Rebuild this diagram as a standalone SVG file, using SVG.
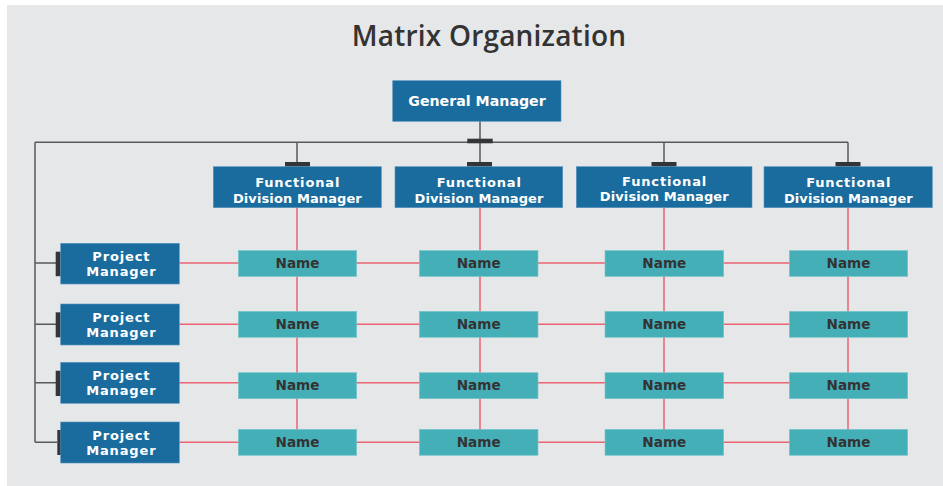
<svg xmlns="http://www.w3.org/2000/svg" width="943" height="486" viewBox="0 0 943 486">
<style>
.bg{fill:#e6e7e9}
.blue{fill:#196c9d;stroke:#5a95bb;stroke-width:0.6}
.teal{fill:#45afb8;stroke:#7cc6cc;stroke-width:0.6}
.bar{fill:#333638}
.gl{stroke:#58595b;stroke-width:1.5;fill:none}
.rl{stroke:#ec6473;stroke-width:1.5;fill:none}
.wt{font-family:"DejaVu Sans","Open Sans",sans-serif;font-weight:700;fill:#ffffff;text-anchor:middle;font-size:13px}
.l1{letter-spacing:0.85px}
.l2{letter-spacing:0.1px}
.pm{letter-spacing:0.85px}
.gm{font-size:14.2px}
.nt{font-family:"DejaVu Sans","Open Sans",sans-serif;font-weight:700;font-size:13.6px;fill:#333333;text-anchor:middle}
.title{font-family:"Open Sans","Liberation Sans",sans-serif;font-weight:600;font-size:28px;letter-spacing:0.2px;fill:#333333;text-anchor:middle}
</style>
<rect x="0" y="0" width="943" height="486" fill="#ffffff"/>
<rect class="bg" x="7" y="5" width="936" height="481"/>
<text class="title" x="489" y="46">Matrix Organization</text>

<g id="connectors">
  <path class="gl" d="M480 121 V162 M35 142.3 H848 M297 142.3 V162 M664 142.3 V162 M848 142.3 V162"/>
  <path class="gl" d="M35 142.3 V442.3 M35 263 H56 M35 324.3 H56 M35 382.7 H56 M35 442.3 H57"/>
  <path class="rl" d="M297 207.7 V442 M480 207.7 V442 M664 207.7 V442 M848 207.7 V442"/>
  <path class="rl" d="M179.3 263 H848 M179.3 324.3 H848 M179.3 382.7 H848 M179.3 442.3 H848"/>
  <rect class="bar" x="467.3" y="138.7" width="25.4" height="4.6"/>
  <rect class="bar" x="285" y="162" width="25" height="4.7"/>
  <rect class="bar" x="467" y="162" width="25" height="4.7"/>
  <rect class="bar" x="651.5" y="162" width="25" height="4.7"/>
  <rect class="bar" x="835.5" y="162" width="25" height="4.7"/>
  <rect class="bar" x="55.7" y="251.7" width="5" height="24.5"/>
  <rect class="bar" x="55.7" y="312.3" width="5" height="25"/>
  <rect class="bar" x="55.7" y="370.7" width="5" height="25.3"/>
  <rect class="bar" x="57.3" y="430" width="5" height="25"/>
</g>

<g id="gm">
  <rect class="blue" x="392.7" y="80.7" width="168.3" height="40.6"/>
  <text class="wt gm" x="477" y="105.5">General Manager</text>
</g>

<g id="fdm1">
  <rect class="blue" x="213.3" y="166.7" width="168" height="41"/>
  <text class="wt l1" x="297.7" y="187.3">Functional</text>
  <text class="wt l2" x="297.4" y="202.6">Division Manager</text>
</g>
<g id="fdm2">
  <rect class="blue" x="395" y="166.7" width="167.7" height="41"/>
  <text class="wt l1" x="479.3" y="187.3">Functional</text>
  <text class="wt l2" x="479" y="202.6">Division Manager</text>
</g>
<g id="fdm3">
  <rect class="blue" x="576.3" y="166.7" width="175.7" height="41"/>
  <text class="wt l1" x="664.6" y="185.8">Functional</text>
  <text class="wt l2" x="664.3" y="201.1">Division Manager</text>
</g>
<g id="fdm4">
  <rect class="blue" x="764" y="166.7" width="168.3" height="41"/>
  <text class="wt l1" x="848.7" y="187.3">Functional</text>
  <text class="wt l2" x="848.4" y="202.6">Division Manager</text>
</g>

<g id="pm1">
  <rect class="blue" x="60.7" y="243.3" width="118.6" height="40.7"/>
  <text class="wt pm" x="121.3" y="260.8">Project</text>
  <text class="wt pm" x="121.3" y="276.1">Manager</text>
</g>
<g id="pm2">
  <rect class="blue" x="60.7" y="304" width="118.6" height="41"/>
  <text class="wt pm" x="121.3" y="321.6">Project</text>
  <text class="wt pm" x="121.3" y="336.9">Manager</text>
</g>
<g id="pm3">
  <rect class="blue" x="60.7" y="362.3" width="118.6" height="41"/>
  <text class="wt pm" x="121.3" y="380">Project</text>
  <text class="wt pm" x="121.3" y="395.3">Manager</text>
</g>
<g id="pm4">
  <rect class="blue" x="60.7" y="422" width="118.6" height="41"/>
  <text class="wt pm" x="121.3" y="439.5">Project</text>
  <text class="wt pm" x="121.3" y="454.8">Manager</text>
</g>

<g id="n11"><rect class="teal" x="238.3" y="250.5" width="118.4" height="26"/><text class="nt" x="297.5" y="268">Name</text></g>
<g id="n12"><rect class="teal" x="419.3" y="250.5" width="118.7" height="26"/><text class="nt" x="478.7" y="268">Name</text></g>
<g id="n13"><rect class="teal" x="605" y="250.5" width="118.7" height="26"/><text class="nt" x="664.3" y="268">Name</text></g>
<g id="n14"><rect class="teal" x="789.3" y="250.5" width="118.4" height="26"/><text class="nt" x="848.5" y="268">Name</text></g>

<g id="n21"><rect class="teal" x="238.3" y="311.3" width="118.4" height="26"/><text class="nt" x="297.5" y="329">Name</text></g>
<g id="n22"><rect class="teal" x="419.3" y="311.3" width="118.7" height="26"/><text class="nt" x="478.7" y="329">Name</text></g>
<g id="n23"><rect class="teal" x="605" y="311.3" width="118.7" height="26"/><text class="nt" x="664.3" y="329">Name</text></g>
<g id="n24"><rect class="teal" x="789.3" y="311.3" width="118.4" height="26"/><text class="nt" x="848.5" y="329">Name</text></g>

<g id="n31"><rect class="teal" x="238.3" y="372.7" width="118.4" height="26"/><text class="nt" x="297.5" y="390.3">Name</text></g>
<g id="n32"><rect class="teal" x="419.3" y="372.7" width="118.7" height="26"/><text class="nt" x="478.7" y="390.3">Name</text></g>
<g id="n33"><rect class="teal" x="605" y="372.7" width="118.7" height="26"/><text class="nt" x="664.3" y="390.3">Name</text></g>
<g id="n34"><rect class="teal" x="789.3" y="372.7" width="118.4" height="26"/><text class="nt" x="848.5" y="390.3">Name</text></g>

<g id="n41"><rect class="teal" x="238.3" y="429.3" width="118.4" height="26"/><text class="nt" x="297.5" y="447">Name</text></g>
<g id="n42"><rect class="teal" x="419.3" y="429.3" width="118.7" height="26"/><text class="nt" x="478.7" y="447">Name</text></g>
<g id="n43"><rect class="teal" x="605" y="429.3" width="118.7" height="26"/><text class="nt" x="664.3" y="447">Name</text></g>
<g id="n44"><rect class="teal" x="789.3" y="429.3" width="118.4" height="26"/><text class="nt" x="848.5" y="447">Name</text></g>
</svg>
